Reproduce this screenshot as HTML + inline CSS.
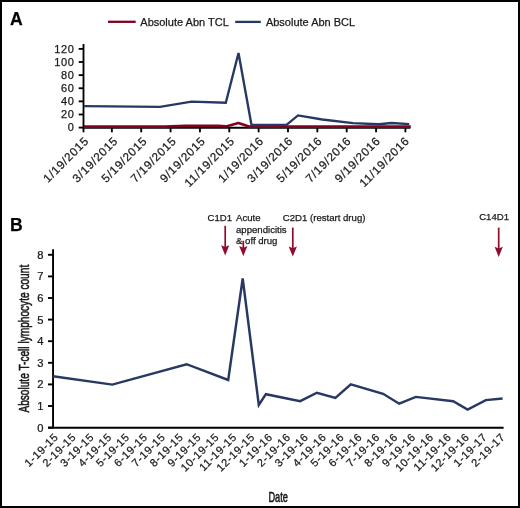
<!DOCTYPE html>
<html><head><meta charset="utf-8"><style>
html,body{margin:0;padding:0;background:#fff;}
body{width:520px;height:508px;overflow:hidden;position:relative;}
svg{position:absolute;left:0;top:0;will-change:transform;}
text{font-family:"Liberation Sans",sans-serif;fill:#1a1a1a;stroke:#1a1a1a;stroke-width:0.25px;}
</style></head><body>
<svg width="520" height="508" viewBox="0 0 520 508">
<rect x="0" y="0" width="520" height="508" fill="#fff"/>
<rect x="1" y="1" width="518" height="506" fill="none" stroke="#000" stroke-width="2"/>
<text x="10" y="24.5" font-size="17.6" font-weight="bold" style="fill:#000">A</text>
<text x="10.1" y="230.8" font-size="17.6" font-weight="bold" style="fill:#000">B</text>
<line x1="108" y1="21.8" x2="135.7" y2="21.8" stroke="#7f0320" stroke-width="2.3"/>
<text x="140.3" y="25.5" font-size="11">Absolute Abn TCL</text>
<line x1="235.2" y1="21.9" x2="260.8" y2="21.9" stroke="#283864" stroke-width="2.3"/>
<text x="265.9" y="25.5" font-size="11">Absolute Abn BCL</text>
<g stroke="#000" stroke-width="1.85">
<line x1="83.5" y1="44" x2="83.5" y2="128.5"/>
<line x1="78.7" y1="127.6" x2="83.5" y2="127.6"/>
<line x1="78.7" y1="114.48" x2="83.5" y2="114.48"/>
<line x1="78.7" y1="101.36" x2="83.5" y2="101.36"/>
<line x1="78.7" y1="88.24" x2="83.5" y2="88.24"/>
<line x1="78.7" y1="75.12" x2="83.5" y2="75.12"/>
<line x1="78.7" y1="62" x2="83.5" y2="62"/>
<line x1="78.7" y1="48.88" x2="83.5" y2="48.88"/>
<line x1="83" y1="127.7" x2="410.5" y2="127.7"/>
<line x1="83.5" y1="128" x2="83.5" y2="132.3"/>
<line x1="111.86" y1="128" x2="111.86" y2="132.3"/>
<line x1="141.21" y1="128" x2="141.21" y2="132.3"/>
<line x1="170.56" y1="128" x2="170.56" y2="132.3"/>
<line x1="199.92" y1="128" x2="199.92" y2="132.3"/>
<line x1="229.28" y1="128" x2="229.28" y2="132.3"/>
<line x1="258.63" y1="128" x2="258.63" y2="132.3"/>
<line x1="287.99" y1="128" x2="287.99" y2="132.3"/>
<line x1="317.34" y1="128" x2="317.34" y2="132.3"/>
<line x1="346.69" y1="128" x2="346.69" y2="132.3"/>
<line x1="376.05" y1="128" x2="376.05" y2="132.3"/>
<line x1="405.41" y1="128" x2="405.41" y2="132.3"/>
</g>
<g font-size="11" text-anchor="end" letter-spacing="0.7">
<text x="74.7" y="131.3">0</text>
<text x="74.7" y="118.18">20</text>
<text x="74.7" y="105.06">40</text>
<text x="74.7" y="91.94">60</text>
<text x="74.7" y="78.82">80</text>
<text x="74.7" y="65.7">100</text>
<text x="74.7" y="52.58">120</text>
</g>
<g font-size="11.7" text-anchor="end" letter-spacing="0.75">
<text transform="translate(89.6,141.6) rotate(-45)">1/19/2015</text>
<text transform="translate(118.75,141.6) rotate(-45)">3/19/2015</text>
<text transform="translate(147.9,141.6) rotate(-45)">5/19/2015</text>
<text transform="translate(177.05,141.6) rotate(-45)">7/19/2015</text>
<text transform="translate(206.2,141.6) rotate(-45)">9/19/2015</text>
<text transform="translate(235.35,141.6) rotate(-45)">11/19/2015</text>
<text transform="translate(264.5,141.6) rotate(-45)">1/19/2016</text>
<text transform="translate(293.65,141.6) rotate(-45)">3/19/2016</text>
<text transform="translate(322.8,141.6) rotate(-45)">5/19/2016</text>
<text transform="translate(351.95,141.6) rotate(-45)">7/19/2016</text>
<text transform="translate(381.1,141.6) rotate(-45)">9/19/2016</text>
<text transform="translate(410.25,141.6) rotate(-45)">11/19/2016</text>
</g>
<polyline fill="none" stroke="#7f0320" stroke-width="2.6" stroke-linejoin="round" points="84,126.6 165,126.6 185,125.9 218,125.9 226,126.4 238.4,123 249,126.6 410.7,126.6"/>
<polyline fill="none" stroke="#283864" stroke-width="2.35" points="84,106.1 160,106.9 191.5,101.7 225.8,102.7 238.5,53.0 251.5,125 286.5,124.8 298,115.4 322.3,119.5 353,123.1 379,124.2 391.5,123 409.2,124.2"/>
<g stroke="#000" stroke-width="1.9">
<line x1="53.05" y1="249.3" x2="53.05" y2="428.5"/>
<line x1="48" y1="427.7" x2="503.6" y2="427.7"/>
<line x1="48" y1="427.6" x2="52.8" y2="427.6"/>
<line x1="48" y1="406" x2="52.8" y2="406"/>
<line x1="48" y1="384.4" x2="52.8" y2="384.4"/>
<line x1="48" y1="362.8" x2="52.8" y2="362.8"/>
<line x1="48" y1="341.2" x2="52.8" y2="341.2"/>
<line x1="48" y1="319.6" x2="52.8" y2="319.6"/>
<line x1="48" y1="298" x2="52.8" y2="298"/>
<line x1="48" y1="276.4" x2="52.8" y2="276.4"/>
<line x1="48" y1="254.8" x2="52.8" y2="254.8"/>
</g>
<g font-size="10" text-anchor="end">
<text transform="translate(43.6,431.5) scale(1.12,1)">0</text>
<text transform="translate(43.6,409.9) scale(1.12,1)">1</text>
<text transform="translate(43.6,388.3) scale(1.12,1)">2</text>
<text transform="translate(43.6,366.7) scale(1.12,1)">3</text>
<text transform="translate(43.6,345.1) scale(1.12,1)">4</text>
<text transform="translate(43.6,323.5) scale(1.12,1)">5</text>
<text transform="translate(43.6,301.9) scale(1.12,1)">6</text>
<text transform="translate(43.6,280.3) scale(1.12,1)">7</text>
<text transform="translate(43.6,258.7) scale(1.12,1)">8</text>
</g>
<g font-size="11" text-anchor="end" letter-spacing="0.6">
<text transform="translate(58.9,437.8) rotate(-45)">1-19-15</text>
<text transform="translate(76.77,437.8) rotate(-45)">2-19-15</text>
<text transform="translate(94.64,437.8) rotate(-45)">3-19-15</text>
<text transform="translate(112.51,437.8) rotate(-45)">4-19-15</text>
<text transform="translate(130.38,437.8) rotate(-45)">5-19-15</text>
<text transform="translate(148.25,437.8) rotate(-45)">6-19-15</text>
<text transform="translate(166.12,437.8) rotate(-45)">7-19-15</text>
<text transform="translate(183.99,437.8) rotate(-45)">8-19-15</text>
<text transform="translate(201.86,437.8) rotate(-45)">9-19-15</text>
<text transform="translate(219.73,437.8) rotate(-45)">10-19-15</text>
<text transform="translate(237.6,437.8) rotate(-45)">11-19-15</text>
<text transform="translate(255.47,437.8) rotate(-45)">12-19-15</text>
<text transform="translate(273.34,437.8) rotate(-45)">1-19-16</text>
<text transform="translate(291.21,437.8) rotate(-45)">2-19-16</text>
<text transform="translate(309.08,437.8) rotate(-45)">3-19-16</text>
<text transform="translate(326.95,437.8) rotate(-45)">4-19-16</text>
<text transform="translate(344.82,437.8) rotate(-45)">5-19-16</text>
<text transform="translate(362.69,437.8) rotate(-45)">6-19-16</text>
<text transform="translate(380.56,437.8) rotate(-45)">7-19-16</text>
<text transform="translate(398.43,437.8) rotate(-45)">8-19-16</text>
<text transform="translate(416.3,437.8) rotate(-45)">9-19-16</text>
<text transform="translate(434.17,437.8) rotate(-45)">10-19-16</text>
<text transform="translate(452.04,437.8) rotate(-45)">11-19-16</text>
<text transform="translate(469.91,437.8) rotate(-45)">12-19-16</text>
<text transform="translate(487.78,437.8) rotate(-45)">1-19-17</text>
<text transform="translate(505.65,437.8) rotate(-45)">2-19-17</text>
</g>
<polyline fill="none" stroke="#283864" stroke-width="2.45" points="53,376.3 112.3,384.6 186.6,364.2 228.2,380 242.7,278.5 258.8,405 265.9,394.2 300.2,401.2 316.9,392.7 335.4,397.9 350.8,384.4 383.1,393.8 399.2,403.7 415.8,396.9 453.2,401.2 467.6,409.6 485.8,400.1 502.6,398.5"/>
<g font-size="9.6">
<text x="207.6" y="220.9">C1D1</text>
<text x="236" y="220.9">Acute</text>
<text x="236" y="233.1">appendicitis</text>
<text x="236" y="243.9">&amp; off drug</text>
<text x="282.8" y="220.9">C2D1 (restart drug)</text>
<text x="479.2" y="219.9">C14D1</text>
</g>
<line x1="225.2" y1="225.8" x2="225.2" y2="247.5" stroke="#930b2c" stroke-width="1.7"/>
<path d="M221.1 245.3 L225.2 247 L229.3 245.3 L225.2 255.4 Z" fill="#930b2c"/>
<line x1="243.3" y1="240.8" x2="243.3" y2="248.2" stroke="#930b2c" stroke-width="1.7"/>
<path d="M239.2 246 L243.3 247.7 L247.4 246 L243.3 256.2 Z" fill="#930b2c"/>
<line x1="292.8" y1="227.6" x2="292.8" y2="248.8" stroke="#930b2c" stroke-width="1.7"/>
<path d="M288.7 246.6 L292.8 248.3 L296.9 246.6 L292.8 256.6 Z" fill="#930b2c"/>
<line x1="498.7" y1="227.6" x2="498.7" y2="249" stroke="#930b2c" stroke-width="1.7"/>
<path d="M494.6 246.8 L498.7 248.5 L502.8 246.8 L498.7 257 Z" fill="#930b2c"/>
<text x="268.4" y="501.5" font-size="14" style="stroke-width:0.55px" textLength="19.6" lengthAdjust="spacingAndGlyphs">Date</text>
<text transform="translate(28.9,412.6) rotate(-90)" font-size="14" style="stroke-width:0.55px" textLength="147.8" lengthAdjust="spacingAndGlyphs">Absolute T-cell lymphocyte count</text>
</svg>
</body></html>
